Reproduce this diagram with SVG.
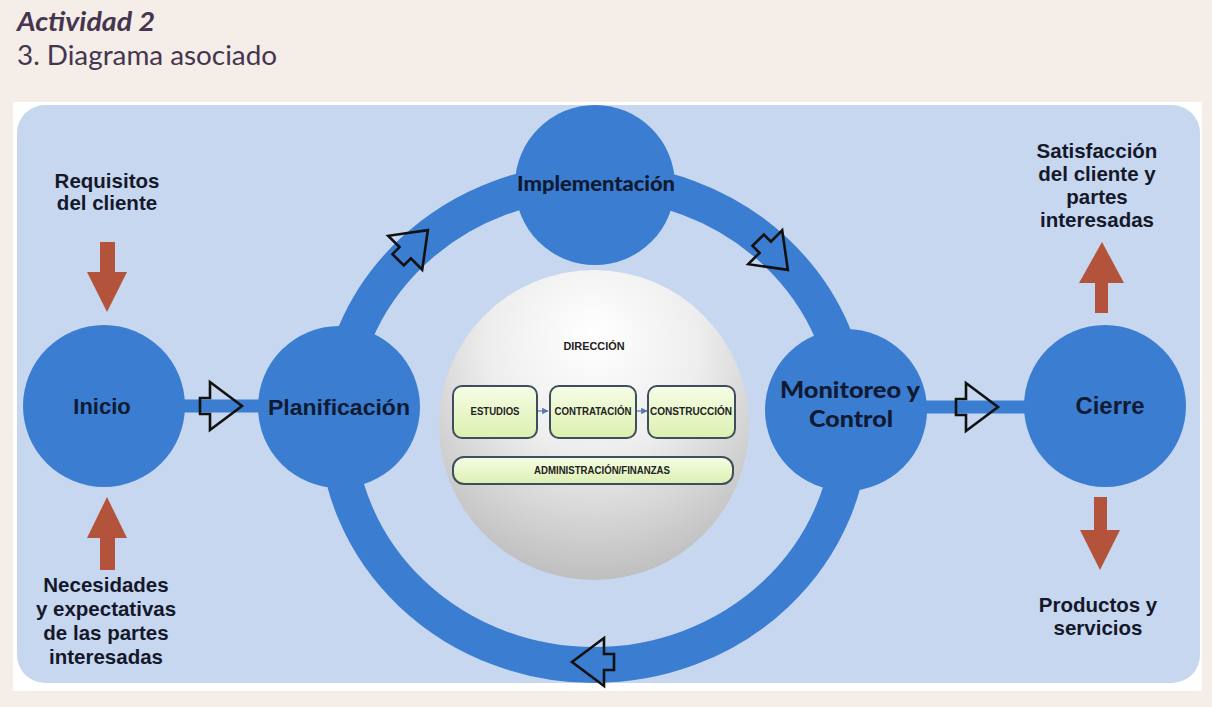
<svg xmlns="http://www.w3.org/2000/svg" width="1212" height="707" viewBox="0 0 1212 707">
<defs>
<radialGradient id="sphere" cx="0.5" cy="0.3" r="0.75" fx="0.5" fy="0.2">
<stop offset="0" stop-color="#ffffff"/>
<stop offset="0.45" stop-color="#eeeeee"/>
<stop offset="1" stop-color="#b9b9b9"/>
</radialGradient>
<linearGradient id="box" x1="0" y1="0" x2="0" y2="1">
<stop offset="0" stop-color="#f6fde6"/>
<stop offset="1" stop-color="#dcf0b0"/>
</linearGradient>
<marker id="sm" viewBox="0 0 10 10" refX="9" refY="5" markerWidth="5" markerHeight="5" orient="auto">
<path d="M0,0 L10,5 L0,10 z" fill="#5878a8"/>
</marker>
<polygon id="hollow" points="-21,-8 -11,-8 -11,-24 21,0 -11,24 -11,8 -21,8"/>
</defs>
<style>
.hdr{font-family:Lato,"Open Sans","Liberation Sans",sans-serif;fill:#45354f}
.lbl{font-family:"Liberation Sans",Arial,sans-serif;font-weight:bold;fill:#15182a;text-anchor:middle;font-size:20.5px}
.node{fill:#3b7dd0}
.ntxt{font-family:"Liberation Sans",Arial,sans-serif;font-weight:bold;fill:#0f1a33;text-anchor:middle}
.ntxt2{font-family:Lato,"Open Sans",sans-serif;font-weight:900;fill:#0f1a33;text-anchor:middle}
.band{stroke:#3b7dd0;fill:none}
.hol{fill:none;stroke:#111111;stroke-width:2.6;stroke-linejoin:miter}
.red{fill:#b4533b}
.bx{fill:url(#box);stroke:#3e4e5c;stroke-width:2}
.btxt{font-family:"Liberation Sans",Arial,sans-serif;font-weight:bold;fill:#222;text-anchor:middle;font-size:10px}
</style>
<rect x="0" y="0" width="1212" height="707" fill="#f5ede8"/>
<text class="hdr" x="17" y="31" font-size="27" font-weight="bold" font-style="italic" textLength="138" lengthAdjust="spacingAndGlyphs">Actividad 2</text>
<text class="hdr" x="17" y="65" font-size="26" textLength="260" lengthAdjust="spacingAndGlyphs">3. Diagrama asociado</text>

<rect x="13" y="102" width="1189" height="589" fill="#ffffff"/>
<rect x="17" y="105" width="1183" height="578" rx="28" fill="#c6d7ef"/>

<g id="connectors">
<ellipse class="band" cx="594" cy="423" rx="257" ry="242" stroke-width="36"/>
<line class="band" x1="180" y1="406" x2="265" y2="406" stroke-width="13"/>
<line class="band" x1="920" y1="407" x2="1030" y2="407" stroke-width="13"/>
<use href="#hollow" class="hol" transform="translate(221,406)"/>
<use href="#hollow" class="hol" transform="translate(977,407)"/>
<use href="#hollow" class="hol" transform="translate(413,245) rotate(-45)"/>
<use href="#hollow" class="hol" transform="translate(773,255) rotate(45)"/>
<use href="#hollow" class="hol" transform="translate(593,662) rotate(180)"/>
<polygon class="red" points="100,242 115,242 115,272 127,272 107,312 87,272 100,272"/>
<polygon class="red" points="100,570 115,570 115,538 127,538 107,497 87,538 100,538"/>
<polygon class="red" points="1095,313 1108,313 1108,283 1124,283 1102,242 1079,283 1095,283"/>
<polygon class="red" points="1094,497 1107,497 1107,530 1120,530 1100,570 1080,530 1094,530"/>
</g>

<g id="inicio">
<circle class="node" cx="104" cy="406" r="81"/>
<text class="ntxt" x="102" y="414" font-size="22">Inicio</text>
</g>
<g id="planificacion">
<circle class="node" cx="339" cy="407" r="81"/>
<text class="ntxt" x="339" y="415" font-size="22.5" textLength="142" lengthAdjust="spacingAndGlyphs">Planificación</text>
</g>
<g id="implementacion">
<circle class="node" cx="595" cy="185" r="80"/>
<text class="ntxt2" x="596" y="191" font-size="20" textLength="158" lengthAdjust="spacingAndGlyphs">Implementación</text>
</g>
<g id="monitoreo">
<circle class="node" cx="846" cy="410" r="81"/>
<text class="ntxt2" x="850" y="398" font-size="23.5" textLength="140" lengthAdjust="spacingAndGlyphs">Monitoreo y</text>
<text class="ntxt2" x="851" y="427" font-size="23.5" textLength="84" lengthAdjust="spacingAndGlyphs">Control</text>
</g>
<g id="cierre">
<circle class="node" cx="1105" cy="406" r="81"/>
<text class="ntxt" x="1110" y="414" font-size="23" textLength="69" lengthAdjust="spacingAndGlyphs">Cierre</text>
</g>

<g id="direccion">
<circle cx="594" cy="425" r="155" fill="url(#sphere)"/>
<text class="btxt" x="594" y="350" textLength="61" lengthAdjust="spacingAndGlyphs">DIRECCIÓN</text>
<rect class="bx" x="453" y="386" width="84" height="52" rx="9"/>
<text class="btxt" x="495" y="415" textLength="49" lengthAdjust="spacingAndGlyphs">ESTUDIOS</text>
<rect class="bx" x="550" y="386" width="86" height="52" rx="9"/>
<text class="btxt" x="593" y="415" textLength="77" lengthAdjust="spacingAndGlyphs">CONTRATACIÓN</text>
<rect class="bx" x="648" y="386" width="87" height="52" rx="9"/>
<text class="btxt" x="691" y="415" textLength="82" lengthAdjust="spacingAndGlyphs">CONSTRUCCIÓN</text>
<rect class="bx" x="453" y="457" width="280" height="27" rx="11"/>
<text class="btxt" x="602" y="474" textLength="136" lengthAdjust="spacingAndGlyphs">ADMINISTRACIÓN/FINANZAS</text>
<line x1="538" y1="411" x2="548" y2="411" stroke="#5878a8" stroke-width="1.3" marker-end="url(#sm)"/>
<line x1="637" y1="411" x2="647" y2="411" stroke="#5878a8" stroke-width="1.3" marker-end="url(#sm)"/>
</g>

<g id="requisitos">
<text class="lbl" x="107" y="188">Requisitos</text>
<text class="lbl" x="107" y="210">del cliente</text>
</g>
<g id="necesidades">
<text class="lbl" x="106" y="592">Necesidades</text>
<text class="lbl" x="106" y="616">y expectativas</text>
<text class="lbl" x="106" y="640">de las partes</text>
<text class="lbl" x="106" y="664">interesadas</text>
</g>
<g id="satisfaccion">
<text class="lbl" x="1097" y="158">Satisfacción</text>
<text class="lbl" x="1097" y="181">del cliente y</text>
<text class="lbl" x="1097" y="204">partes</text>
<text class="lbl" x="1097" y="227">interesadas</text>
</g>
<g id="productos">
<text class="lbl" x="1098" y="612">Productos y</text>
<text class="lbl" x="1098" y="635">servicios</text>
</g>
</svg>
